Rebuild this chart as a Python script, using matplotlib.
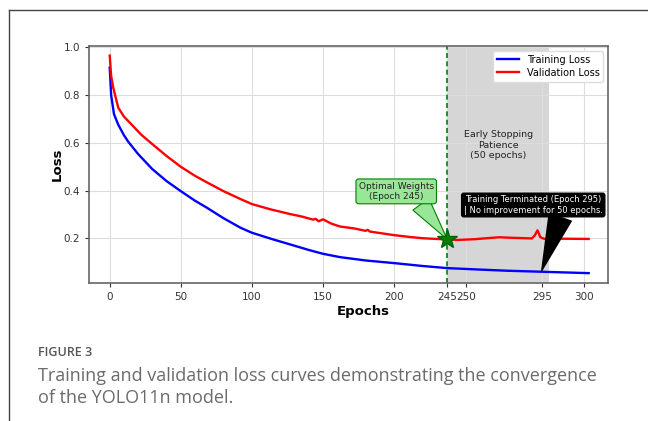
import numpy as np
import matplotlib
matplotlib.use("Agg")
import matplotlib.pyplot as plt
from matplotlib.lines import Line2D

# curve values (x in plot units of the original axis)
train_x = [0, 1, 3, 6, 10, 13, 20, 30, 40, 50, 60, 68, 80, 92, 100, 115, 127,
           140, 150, 162, 180, 200, 220, 237.5, 260, 280, 303, 320, 337]
train_loss = [0.915, 0.80, 0.72, 0.676, 0.632, 0.605, 0.553, 0.49, 0.44, 0.398,
              0.358, 0.33, 0.285, 0.245, 0.224, 0.196, 0.175, 0.152, 0.136,
              0.122, 0.108, 0.097, 0.085, 0.076, 0.07, 0.065, 0.061, 0.058, 0.055]

val_x = [0, 1, 2.5, 6, 10, 16.6, 22, 29.5, 40, 50, 60, 68, 80, 92, 100, 113,
         127, 135, 143, 145, 147, 150, 152, 156, 162, 172, 180, 181.5, 183, 200,
         210, 220, 230, 237.5, 245, 257, 265, 274, 282, 293, 297, 299, 301, 303,
         306, 320, 337]
val_loss = [0.965, 0.88, 0.83, 0.747, 0.71, 0.669, 0.635, 0.597, 0.545, 0.5,
            0.462, 0.436, 0.398, 0.365, 0.344, 0.322, 0.302, 0.292, 0.279, 0.282,
            0.272, 0.28, 0.274, 0.262, 0.25, 0.242, 0.232, 0.236, 0.229, 0.214,
            0.207, 0.201, 0.198, 0.196, 0.194, 0.197, 0.201, 0.205, 0.203, 0.201,
            0.2, 0.212, 0.234, 0.205, 0.198, 0.199, 0.198]

tick_pos = [0, 50, 100, 150, 200, 237.5, 250.7, 304, 334]
tick_labels = ['0', '50', '100', '150', '200', '245', '250', '295', '300']

best_x, best_loss = 237.5, 0.196
stop_x, stop_loss = 304, 0.066
patience_end = 309

fig = plt.figure(figsize=(6.48, 4.21), dpi=100)
ax = fig.add_axes([0.1373, 0.3285, 0.8014, 0.5622])

ax.axvspan(best_x, patience_end, color='#cfcfcf', alpha=0.85, lw=0, zorder=0)
ax.plot(train_x, train_loss, color='blue', lw=1.7, label='Training Loss', zorder=3)
ax.plot(val_x, val_loss, color='red', lw=1.7, label='Validation Loss', zorder=3)
ax.axvline(best_x, color='green', ls=(0, (3, 2)), lw=1.2, zorder=2)
ax.plot(best_x, best_loss, marker='*', color='green', markersize=15,
        markeredgecolor='darkgreen', zorder=5)

ax.text((best_x + patience_end) / 2, 0.59, 'Early Stopping\nPatience\n(50 epochs)',
        ha='center', va='center', fontsize=6.8, color='#222222')

ax.annotate('Optimal Weights\n(Epoch 245)', xy=(best_x, best_loss),
            xytext=(201.6, 0.397), ha='center', va='center', fontsize=6.5,
            color='#222222',
            bbox=dict(boxstyle='round,pad=0.3', fc='#99e699', ec='green', lw=0.8),
            arrowprops=dict(arrowstyle='wedge,tail_width=2.2', fc='#99e699',
                            ec='green', lw=0.8, shrinkA=0, shrinkB=0,
                            relpos=(0.7, 0.5)))

ax.annotate('Training Terminated (Epoch 295)\n| No improvement for 50 epochs.',
            xy=(stop_x, stop_loss), xytext=(298, 0.34), ha='center', va='center',
            fontsize=6, color='white', zorder=6,
            bbox=dict(boxstyle='round,pad=0.25', fc='black', ec='black'),
            arrowprops=dict(arrowstyle='wedge,tail_width=2.8', fc='black', ec='black',
                            shrinkA=0, shrinkB=0, relpos=(0.72, 0.4)))

ax.set_xlim(-14.6, 350.8)
ax.set_ylim(0.015, 1.005)
ax.set_xticks(tick_pos)
ax.set_xticklabels(tick_labels)
ax.set_yticks([0.2, 0.4, 0.6, 0.8, 1.0])
ax.grid(True, color='#dddddd', lw=0.8, zorder=0)
ax.set_axisbelow(True)
for s in ax.spines.values():
    s.set_color('#666666')
    s.set_linewidth(1.2)
ax.tick_params(labelsize=7.5, colors='#333333', length=3)
ax.set_xlabel('Epochs', fontsize=9.5, fontweight='bold')
ax.xaxis.set_label_coords(0.528, -0.094)
ax.set_ylabel('Loss', fontsize=9.5, fontweight='bold')
ax.yaxis.set_label_coords(-0.048, 0.5)

leg = ax.legend(loc='upper right', fontsize=7, handlelength=2.3,
                borderpad=0.4, labelspacing=0.3, framealpha=1)
leg.get_frame().set_edgecolor('#dddddd')

# page frame around the figure
fig.add_artist(Line2D([9 / 648, 0.999], [1 - 10 / 421, 1 - 10 / 421], color='#444444', lw=1))
fig.add_artist(Line2D([9 / 648, 9 / 648], [0, 1 - 10 / 421], color='#444444', lw=1))

fig.text(38 / 648, 1 - 352 / 421, 'FIGURE 3', family='Open Sans', fontsize=9,
         color='#555555', va='center', fontweight='semibold')
fig.text(38 / 648, 1 - 376 / 421,
         'Training and validation loss curves demonstrating the convergence',
         family='Open Sans', fontsize=13, color='#6b6b6b', va='center')
fig.text(38 / 648, 1 - 398 / 421, 'of the YOLO11n model.',
         family='Open Sans', fontsize=13, color='#6b6b6b', va='center')

fig.savefig('out.png', dpi=100)
